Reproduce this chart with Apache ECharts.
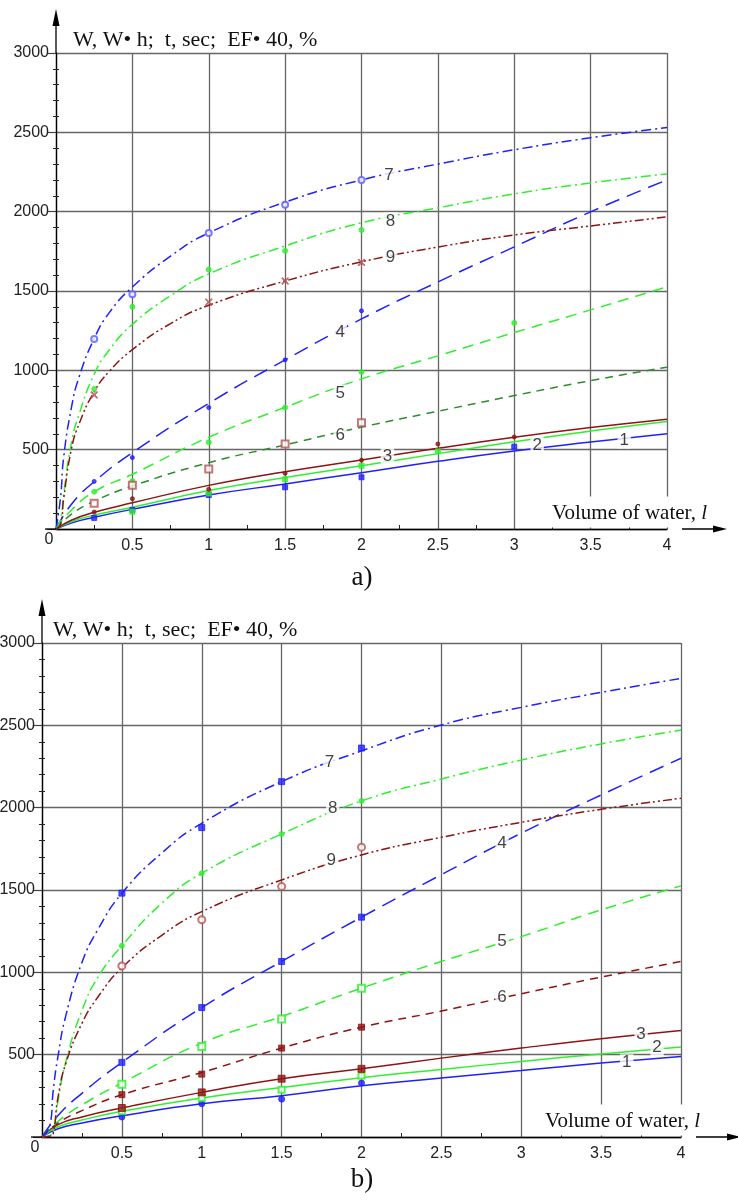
<!DOCTYPE html>
<html>
<head>
<meta charset="utf-8">
<script src="https://cdn.jsdelivr.net/npm/echarts@6/dist/echarts.min.js"></script>
<style>
  html, body { margin: 0; padding: 0; background: #fff; }
  #chart { width: 738px; height: 1201px; }
</style>
</head>
<body>
<div id="chart"></div>
<script>
// volume of water, l  (x positions the curves were read at)
const xLow = [0, 0.1, 0.25, 0.5, 1, 1.5, 2, 2.5, 3, 3.5, 4];
const xHighA = [0, 0.03, 0.05, 0.1, 0.15, 0.25, 0.35, 0.5, 0.75, 1, 1.5, 2, 2.5, 3, 3.5, 4];
const xHighB = [0, 0.05, 0.07, 0.1, 0.15, 0.25, 0.35, 0.5, 0.75, 1, 1.5, 2, 2.5, 3, 3.5, 4];

// a) fitted curves 1..9
const curveA1 = [0, 38, 74, 124, 214, 284, 355, 427, 492, 548, 601];
const curveA2 = [0, 46, 88, 137, 242, 324, 399, 475, 550, 617, 677];
const curveA3 = [0, 55, 105, 165, 275, 361, 435, 509, 578, 639, 692];
const curveA4 = [0, 155, 298, 481, 792, 1066, 1324, 1557, 1778, 1999, 2200];
const curveA5 = [0, 118, 235, 345, 578, 767, 946, 1091, 1238, 1381, 1526];
const curveA6 = [0, 92, 175, 271, 418, 530, 642, 742, 841, 935, 1020];
const curveA7 = [0, 200, 450, 760, 955, 1200, 1365, 1525, 1720, 1866, 2060, 2200, 2300, 2390, 2466, 2530];
const curveA8 = [0, 60, 220, 540, 720, 975, 1130, 1290, 1470, 1608, 1784, 1930, 2024, 2112, 2181, 2238];
const curveA9 = [0, 30, 190, 500, 660, 865, 995, 1130, 1295, 1410, 1563, 1684, 1777, 1853, 1910, 1967];

// a) measured points
const pointsA1 = [[0.25, 70], [0.5, 120], [1, 214], [1.5, 263], [2, 326], [3, 519]];
const pointsA2 = [[0.5, 109], [1, 225], [1.5, 313], [2, 399], [2.5, 489]];
const pointsA3 = [[0.25, 107], [0.5, 191], [1, 250], [1.5, 351], [2, 434], [2.5, 536], [3, 580]];
const pointsA4 = [[0.25, 300], [0.5, 450], [1, 765], [1.5, 1066], [2, 1375]];
const pointsA5 = [[0.25, 235], [0.5, 302], [1, 547], [1.5, 766], [2, 990], [3, 1299]];
const pointsA6 = [[0.25, 162], [0.5, 275], [1, 378], [1.5, 536], [2, 670]];
const pointsA7 = [[0.25, 1198], [0.5, 1480], [1, 1866], [1.5, 2043], [2, 2200]];
const pointsA8 = [[0.25, 883], [0.5, 1400], [1, 1635], [1.5, 1753], [2, 1885]];
const pointsA9 = [[0.25, 845], [1, 1430], [1.5, 1563], [2, 1680]];

// b) fitted curves 1..9
const curveB1 = [0, 50, 85, 129, 202, 251, 311, 358, 404, 449, 489];
const curveB2 = [0, 62, 103, 156, 237, 300, 360, 410, 459, 504, 546];
const curveB3 = [0, 75, 122, 176, 271, 354, 414, 479, 540, 597, 647];
const curveB4 = [0, 130, 265, 453, 786, 1066, 1335, 1593, 1845, 2077, 2300];
const curveB5 = [0, 95, 195, 328, 570, 732, 904, 1066, 1217, 1379, 1525];
const curveB6 = [0, 85, 160, 257, 392, 540, 667, 765, 870, 971, 1066];
const curveB7 = [0, 70, 280, 490, 740, 1060, 1260, 1480, 1725, 1905, 2158, 2345, 2502, 2609, 2700, 2785];
const curveB8 = [0, 10, 30, 216, 460, 768, 970, 1161, 1420, 1602, 1840, 2041, 2174, 2289, 2387, 2471];
const curveB9 = [0, 5, 20, 240, 450, 690, 850, 1027, 1225, 1369, 1561, 1713, 1820, 1911, 1990, 2057];

// b) measured points
const pointsB1 = [[0.5, 121], [1, 202], [1.5, 230], [2, 328]];
const pointsB2 = [[0.5, 156], [1, 237], [1.5, 287], [2, 372]];
const pointsB3 = [[0.5, 176], [1, 271], [1.5, 354], [2, 414]];
const pointsB4 = [[0.5, 453], [1, 786], [1.5, 1066], [2, 1335]];
const pointsB5 = [[0.5, 321], [1, 550], [1.5, 716], [2, 904]];
const pointsB6 = [[0.5, 257], [1, 382], [1.5, 540], [2, 667]];
const pointsB7 = [[0.5, 1481], [1, 1879], [1.5, 2158], [2, 2362]];
const pointsB8 = [[0.5, 1161], [1, 1602], [1.5, 1840], [2, 2041]];
const pointsB9 = [[0.5, 1039], [1, 1319], [1.5, 1521], [2, 1760]];

// where the curve numbers 1..9 sit
const numberPosA = [[3.72, 561], [3.15, 530], [2.17, 460], [1.86, 1242], [1.86, 857], [1.86, 593], [2.18, 2232], [2.19, 1942], [2.19, 1715]];
const numberPosB = [[3.66, 451], [3.85, 542], [3.75, 621], [2.88, 1786], [2.88, 1191], [2.88, 851], [1.80, 2277], [1.82, 1998], [1.81, 1683]];

const BLUE = '#2020ff', GREEN = '#2ef02e', DRED = '#8e1414', DGREEN = '#2f8a2f', BROWN = '#b55555';
const LONG = [15, 8], MID = [11, 7], SHORT = [8, 6], DASHDOT = [10, 4, 2, 4], DASHDOTDOT = [9, 3, 2, 3, 2, 3];
const CROSS = 'path://M0,1L1,0L5,4L9,0L10,1L6,5L10,9L9,10L5,6L1,10L0,9L4,5Z';

const GA = { left: 56, top: 53, width: 611, height: 476 };
const GB = { left: 42, top: 643, width: 639, height: 494 };

const serif = '"Liberation Serif", "Times New Roman", serif';
const sans = '"Liberation Sans", Arial, sans-serif';

function curve(k, xs, ys, color, type) {
  return {
    type: 'line', xAxisIndex: k, yAxisIndex: k * 2,
    data: xs.map((x, i) => [x, ys[i]]),
    smooth: 0.5, showSymbol: false, symbol: 'none',
    lineStyle: { color: color, width: 1.5, type: type }, silent: true, z: 3
  };
}

function marks(k, pts, symbol, color, size) {
  return {
    type: 'scatter', xAxisIndex: k, yAxisIndex: k * 2, data: pts,
    symbol: symbol, symbolSize: size,
    itemStyle: { color: color, borderColor: color, borderWidth: 1 }, silent: true, z: 4
  };
}

function numbers(k, pos) {
  return {
    type: 'scatter', xAxisIndex: k, yAxisIndex: k * 2, symbolSize: 1,
    itemStyle: { color: 'rgba(0,0,0,0)' },
    data: pos.map((p, i) => ({ value: p, name: String(i + 1) })),
    label: {
      show: true, position: 'inside', formatter: '{b}', color: '#111',
      fontSize: 17, fontFamily: sans, backgroundColor: '#fff', padding: [0, 2]
    },
    silent: true, z: 10
  };
}

function xAxisFor(k) {
  return {
    gridIndex: k, type: 'value', min: 0, max: 4, interval: 0.5,
    axisLine: { show: true, onZero: false, lineStyle: { color: '#000', width: 1.3 } },
    axisTick: { show: false, inside: true },
    minorTick: { show: true, splitNumber: 2, length: 4, lineStyle: { color: '#222', width: 1 } },
    axisLabel: {
      margin: 9, fontSize: 16, color: '#222', fontFamily: sans,
      formatter: v => (v === 0 ? '' : String(v))
    },
    splitLine: { show: true, lineStyle: { color: '#666', width: 1.3 } }
  };
}

function yAxesFor(k) {
  const main = {
    gridIndex: k, type: 'value', min: 0, max: 3000, interval: 500, position: 'left',
    axisLine: { show: true, onZero: false, lineStyle: { color: '#000', width: 1.3 } },
    axisTick: { show: true, length: 9, lineStyle: { color: '#444', width: 1.2 } },
    minorTick: { show: true, splitNumber: 5, length: 3, lineStyle: { color: '#222', width: 1 } },
    axisLabel: {
      margin: 7, fontSize: 16, color: '#222', fontFamily: sans,
      formatter: v => (v === 0 ? '' : String(v))
    },
    splitLine: { show: true, lineStyle: { color: '#666', width: 1.3 } }
  };
  const overlay = {
    gridIndex: k, type: 'value', min: 0, max: 3000, interval: 500, position: 'left', offset: 0,
    axisLine: { show: false }, axisTick: { show: false, inside: true },
    minorTick: { show: true, splitNumber: 5, length: 3, lineStyle: { color: '#222', width: 1 } },
    axisLabel: { show: false }, splitLine: { show: false }
  };
  return [main, overlay];
}

function decorations(g, caption, titleX, volX, captionY) {
  const bottom = g.top + g.height, right = g.left + g.width;
  return [
    { type: 'line', shape: { x1: g.left, y1: g.top, x2: g.left, y2: g.top - 30 }, style: { stroke: '#000', lineWidth: 1.3 }, z: 20 },
    { type: 'polygon', shape: { points: [[g.left, g.top - 44], [g.left - 3.5, g.top - 27], [g.left + 3.5, g.top - 27]] }, style: { fill: '#000' }, z: 20 },
    { type: 'line', shape: { x1: g.left - 11, y1: bottom, x2: g.left, y2: bottom }, style: { stroke: '#000', lineWidth: 1.3 }, z: 20 },
    { type: 'line', shape: { x1: right + 15, y1: bottom, x2: right + 50, y2: bottom }, style: { stroke: '#000', lineWidth: 1.3 }, z: 20 },
    { type: 'polygon', shape: { points: [[right + 60, bottom], [right + 46, bottom - 3.5], [right + 46, bottom + 3.5]] }, style: { fill: '#000' }, z: 20 },
    { type: 'text', style: { text: 'W, W\u2022 h;  t, sec;  EF\u2022 40, %', x: titleX, y: g.top - 13, font: '22px ' + serif, fill: '#111', verticalAlign: 'middle' }, z: 20 },
    {
      type: 'text', z: 20,
      style: {
        text: 'Volume of water, {i|l}', x: volX, y: bottom - 17, font: '21px ' + serif, fill: '#111',
        verticalAlign: 'middle', backgroundColor: '#fff', padding: [6, 6, 4, 4],
        rich: { i: { fontStyle: 'italic', fontSize: 21, fontFamily: serif, fill: '#111' } }
      }
    },
    { type: 'text', style: { text: '0', x: g.left - 7, y: bottom + 11, font: '16px ' + sans, fill: '#222', align: 'center', verticalAlign: 'middle' }, z: 20 },
    { type: 'text', style: { text: caption, x: 362, y: captionY, font: '27px ' + serif, fill: '#111', align: 'center', verticalAlign: 'middle' }, z: 20 }
  ];
}

const chart = echarts.init(document.getElementById('chart'));

const series = [
  curve(0, xLow, curveA1, BLUE, 'solid'),
  curve(0, xLow, curveA2, GREEN, 'solid'),
  curve(0, xLow, curveA3, DRED, 'solid'),
  curve(0, xLow, curveA4, BLUE, LONG),
  curve(0, xLow, curveA5, GREEN, MID),
  curve(0, xLow, curveA6, DGREEN, SHORT),
  curve(0, xHighA, curveA7, BLUE, DASHDOT),
  curve(0, xHighA, curveA8, GREEN, DASHDOT),
  curve(0, xHighA, curveA9, DRED, DASHDOTDOT),
  marks(0, pointsA1, 'rect', BLUE, 5),
  marks(0, pointsA2, 'rect', GREEN, 5),
  marks(0, pointsA3, 'circle', DRED, 4),
  marks(0, pointsA4, 'circle', BLUE, 4),
  marks(0, pointsA5, 'circle', GREEN, 5),
  marks(0, pointsA6, 'emptyRect', BROWN, 7),
  marks(0, pointsA7, 'emptyCircle', '#5a5aff', 6),
  marks(0, pointsA8, 'circle', GREEN, 5),
  marks(0, pointsA9, CROSS, BROWN, 7),
  numbers(0, numberPosA),

  curve(1, xLow, curveB1, BLUE, 'solid'),
  curve(1, xLow, curveB2, GREEN, 'solid'),
  curve(1, xLow, curveB3, DRED, 'solid'),
  curve(1, xLow, curveB4, BLUE, LONG),
  curve(1, xLow, curveB5, GREEN, MID),
  curve(1, xLow, curveB6, DRED, SHORT),
  curve(1, xHighB, curveB7, BLUE, DASHDOT),
  curve(1, xHighB, curveB8, GREEN, DASHDOT),
  curve(1, xHighB, curveB9, DRED, DASHDOTDOT),
  marks(1, pointsB1, 'circle', BLUE, 6),
  marks(1, pointsB2, 'emptyRect', GREEN, 6),
  marks(1, pointsB3, 'rect', DRED, 7),
  marks(1, pointsB4, 'rect', BLUE, 6),
  marks(1, pointsB5, 'emptyRect', GREEN, 7),
  marks(1, pointsB6, 'rect', DRED, 6),
  marks(1, pointsB7, 'rect', BLUE, 6),
  marks(1, pointsB8, 'circle', GREEN, 5),
  marks(1, pointsB9, 'emptyCircle', BROWN, 7),
  numbers(1, numberPosB)
];

const option = {
  animation: false,
  backgroundColor: '#fff',
  grid: [
    Object.assign({ containLabel: false, outerBoundsMode: 'none' }, GA),
    Object.assign({ containLabel: false, outerBoundsMode: 'none' }, GB)
  ],
  xAxis: [xAxisFor(0), xAxisFor(1)],
  yAxis: yAxesFor(0).concat(yAxesFor(1)),
  series: series,
  graphic: decorations(GA, 'a)', 73, 548, 578).concat(decorations(GB, 'b)', 53, 541, 1180))
};

chart.setOption(option);
</script>
</body>
</html>
